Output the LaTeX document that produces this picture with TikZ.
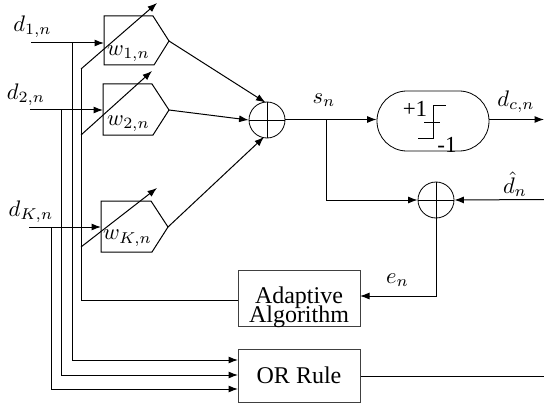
\documentclass[tikz,border=0pt]{standalone}
\usepackage{fontspec}
\setmainfont{Liberation Serif}
\usetikzlibrary{arrows.meta}
\tikzset{
  wire/.style={draw=black,line width=1pt},
  arr/.style={wire,-{Latex[length=9.5pt,width=7pt]}},
  box/.style={draw=black!75,line width=1pt,rectangle,inner sep=0pt,minimum width=122pt,
     font=\fontsize{24}{19}\selectfont},
  adder/.style={draw=black,line width=0.8pt,circle,inner sep=0pt,minimum size=36pt},
  hardlim/.style={draw=black,line width=0.8pt,rectangle,rounded corners=29.9pt,inner sep=0pt,minimum width=112pt,minimum height=60pt},
  mlabel/.style={scale=2.25,inner sep=0pt},
  tlabel/.style={inner sep=0pt,font=\fontsize{23}{23}\selectfont},
  penta/.style={wire,line join=miter},
}
\begin{document}
\begin{tikzpicture}[x=1pt,y=-1pt]
\useasboundingbox (0,0) rectangle (544,404);
% weight pentagons: corners
\coordinate (pa1) at (104,16); \coordinate (pa2) at (153,16); \coordinate (pa) at (169,41);
\coordinate (pa4) at (154,65); \coordinate (pa5) at (104,65); \coordinate (ina) at (104,43);
\coordinate (pb1) at (103,84); \coordinate (pb2) at (152,84); \coordinate (pb) at (169,110);
\coordinate (pb4) at (153,135); \coordinate (pb5) at (103,135); \coordinate (inb) at (103,110);
\coordinate (pc1) at (101,201); \coordinate (pc2) at (151,201); \coordinate (pc) at (168,227);
\coordinate (pc4) at (152,252); \coordinate (pc5) at (101,252); \coordinate (inc) at (101,227);
\draw[penta] (pa1) -- (pa2) -- (pa) -- (pa4) -- (pa5) -- cycle;
\draw[penta] (pb1) -- (pb2) -- (pb) -- (pb4) -- (pb5) -- cycle;
\draw[penta] (pc1) -- (pc2) -- (pc) -- (pc4) -- (pc5) -- cycle;
% labels
\node[mlabel] (d1) at (32.5,27) {$d_{1,n}$};
\node[mlabel] (d2) at (26,95) {$d_{2,n}$};
\node[mlabel] (dk) at (31,212) {$d_{K,n}$};
\node[mlabel] (w1) at (128.5,54) {$w_{1,n}$};
\node[mlabel] (w2) at (128.5,124) {$w_{2,n}$};
\node[mlabel] (wk) at (127.5,238) {$w_{K,n}$};
\node[mlabel] (sn) at (324,100) {$s_n$};
\node[mlabel] (dc) at (516,102) {$d_{c,n}$};
\node[mlabel] (dh) at (515,184) {$\hat{d}_n$};
\node[mlabel] (en) at (397.5,280) {$e_n$};
% blocks
\node[adder] (sum1) at (267,120) {};
\node[adder] (sum2) at (436,200) {};
\draw[wire,line width=0.8pt] (sum1.north) -- (sum1.south) (sum1.west) -- (sum1.east);
\draw[wire,line width=0.8pt] (sum2.north) -- (sum2.south) (sum2.west) -- (sum2.east);
\node[hardlim] (dec) at (433,121) {};
\node[box,minimum height=56pt,text height=32pt,text depth=6pt] (alg) at (299,298) {\raisebox{-2pt}[0pt][0pt]{\parbox{120pt}{\lineskiplimit=-20pt\centering Adaptive\\Algorithm}}};
\node[box,minimum height=53pt] (orr) at (299,375.5) {OR Rule};
% hard limiter glyph
\coordinate (s1) at (418,138); \coordinate (s2) at (433,138); \coordinate (s3) at (433,105); \coordinate (s4) at (446,105);
\coordinate (t1) at (424,122); \coordinate (t2) at (440,122);
\draw[wire,line width=0.8pt] (s1) -- (s2) -- (s3) -- (s4);
\draw[wire,line width=0.8pt] (t1) -- (t2);
\node[tlabel] (pl) at (415,109) {+1};
\node[tlabel] (mi) at (447,145) {-1};
% inputs
\coordinate (a0) at (31,43); \coordinate (b0) at (30,110); \coordinate (c0) at (29,227);
\draw[arr] (a0) -- (ina);
\draw[arr] (b0) -- (inb);
\draw[arr] (c0) -- (inc);
% adjust arrows
\coordinate (ua) at (81,69); \coordinate (ua2) at (157,3);
\coordinate (ub) at (81,135); \coordinate (ub2) at (152,71);
\coordinate (uc) at (81,247); \coordinate (uc2) at (157,188);
\coordinate (ubus) at (81,300);
\draw[arr] (ua) -- (ua2);
\draw[arr] (ub) -- (ub2);
\draw[arr] (uc) -- (uc2);
\draw[wire] (alg.west |- ubus) -- (ubus) -- (ua);
% OR rule feeds
\coordinate (ja) at (72,43); \coordinate (jb) at (61,110); \coordinate (jc) at (51,227);
\draw[arr] (ja) -- (72,360) -- (238,360);
\draw[arr] (jb) -- (61,375) -- (238,375);
\draw[arr] (jc) -- (51,389) -- (238,389);
% to first adder
\draw[arr] (pa) -- (265.5,102.5);
\draw[arr] (pb) -- (sum1.west);
\draw[arr] (pc) -- (264,137);
% output side
\coordinate (js) at (326,119.5);
\coordinate (outd) at (544,119.5);
\coordinate (dhat) at (544,199.5);
\coordinate (orout) at (544,376);
\draw[arr] (sum1.east |- js) -- (dec.west |- js);
\draw[arr] (dec.east |- outd) -- (outd);
\draw[arr] (js) -- (326,200) -- (sum2.west);
\draw[arr] (dhat) -- (sum2.east);
\draw[arr] (sum2.south) -- (436,296) -- (360,296);
\draw[wire] (orr.east |- orout) -- (orout);
\end{tikzpicture}
\end{document}
